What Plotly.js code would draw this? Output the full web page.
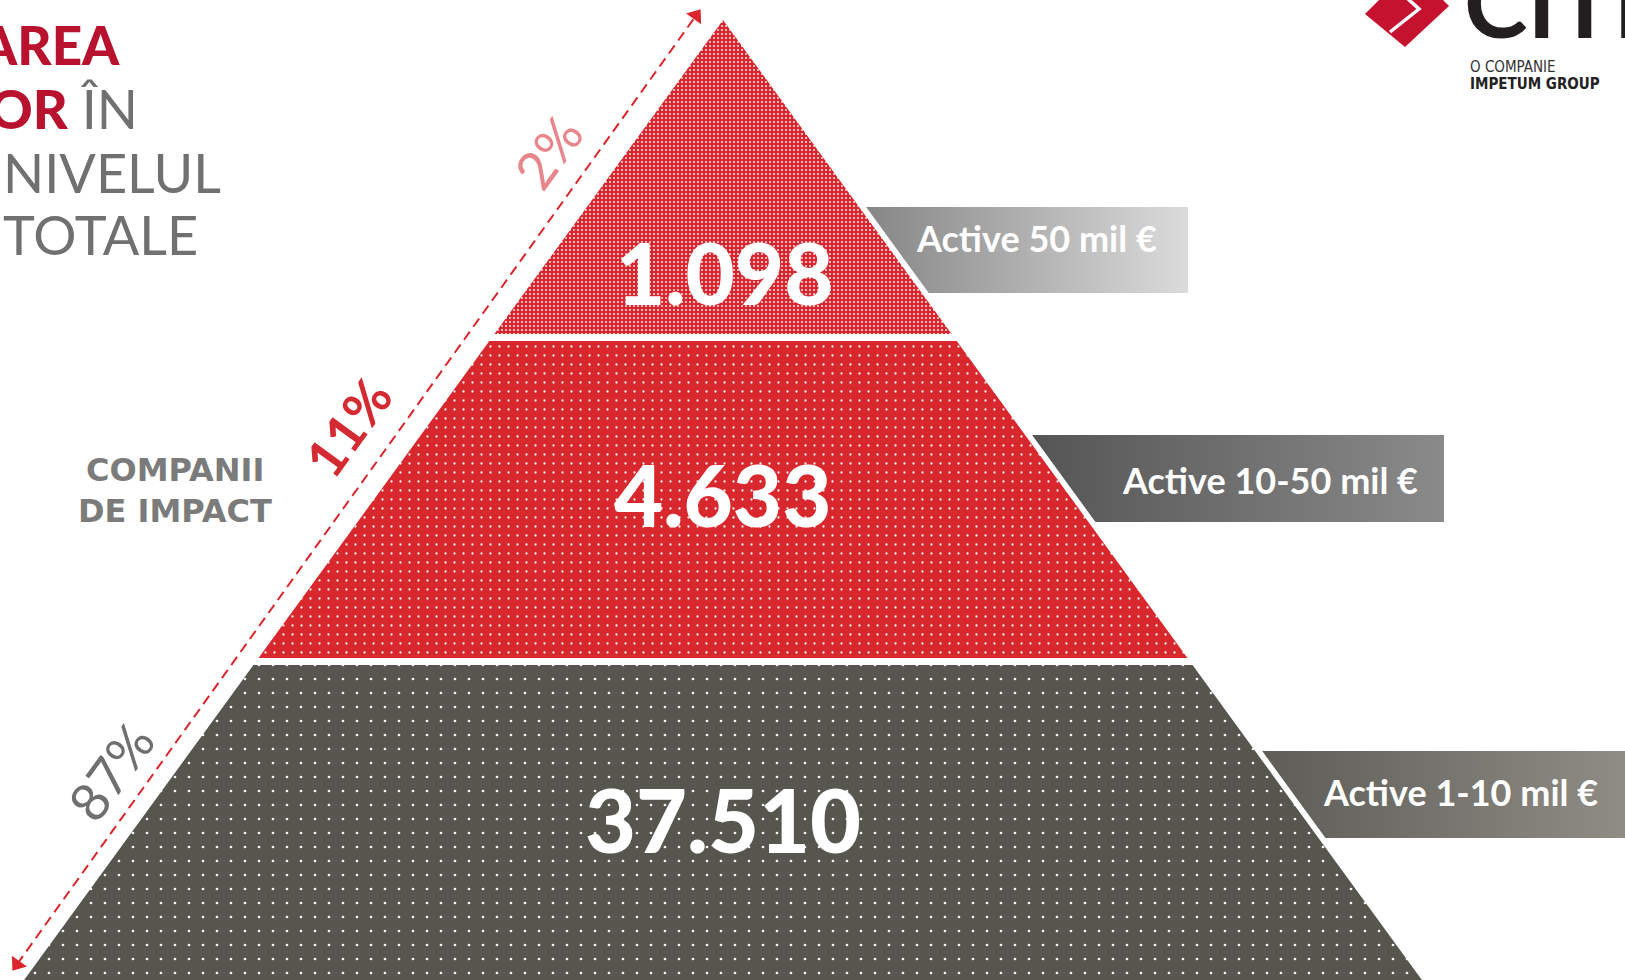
<!DOCTYPE html>
<html>
<head>
<meta charset="utf-8">
<script src="https://cdn.plot.ly/plotly-3.0.1.min.js"></script>
<style>
  html, body { margin: 0; padding: 0; background: #ffffff; }
  #chart { width: 1625px; height: 980px; }
</style>
</head>
<body>
<div id="chart"></div>
<script>
// ---------- DATA (top tier first) ----------
const tierLabels = ['Active 50 mil €', 'Active 10-50 mil €', 'Active 1-10 mil €'];
const companyCounts = [1098, 4633, 37510];
const sharePercents = [2, 11, 87];
const sideLabel = ['COMPANII', 'DE IMPACT'];
const titleLines = ['AREA', 'OR', 'ÎN', 'NIVELUL', 'TOTALE'];

// ---------- GEOMETRY / STYLE (layout constants) ----------
const G = {
  W: 1625, H: 980,
  apexX: 723, apexY: 20, slope: 0.728,
  firstCut: 337.5, pitch: 324, halfGap: 3.5, baseY: 985.5,
  boxOffset: 7
};
const tierColors = ['#d8262e', '#d9272e', '#56564f'];
const tierPattern = [
  {size: 4, solidity: 0.22, fg: 'rgba(255,255,255,0.85)'},
  {size: 9, solidity: 0.05, fg: 'rgba(255,255,255,0.95)'},
  {size: 14, solidity: 0.03, fg: 'rgba(255,255,255,0.95)'}
];
const numberPos = [[724, 272, 85], [722, 494, 85], [723, 819, 88]];
const boxY = [[207, 293], [435, 522], [751, 838]];
const boxRight = [1188, 1444, 1645];
const boxGrad = [['#868686', '#dbdbdb'], ['#555555', '#8a8a8a'], ['#5d5c57', '#928f87']];
const boxTextPos = [[1036, 238], [1270, 480], [1460, 792]];
const pctPos = [[547, 152], [347, 427], [110, 771]];
const pctColors = ['#e8868b', '#d42a31', '#6f6f6f'];
const RED_T = '#b8122f', GRAY_T = '#707070';

function fmt(n) { return String(n).replace(/\B(?=(\d{3})+(?!\d))/g, '.'); }
function edgeHalf(y) { return G.slope * (y - G.apexY); }

// tier vertical bounds
const nT = tierLabels.length;
const cuts = [];
for (let i = 0; i < nT - 1; i++) cuts.push(G.firstCut + i * G.pitch);

const traces = [];
for (let i = 0; i < nT; i++) {
  const top = i === 0 ? G.apexY : cuts[i - 1] + G.halfGap;
  const bot = i === nT - 1 ? G.baseY : cuts[i] - G.halfGap;
  const xs = [G.apexX - edgeHalf(top), G.apexX + edgeHalf(top), G.apexX + edgeHalf(bot), G.apexX - edgeHalf(bot), G.apexX - edgeHalf(top)];
  const ys = [top, top, bot, bot, top];
  traces.push({
    type: 'scatter', x: xs, y: ys, mode: 'none', fill: 'toself',
    fillcolor: tierColors[i],
    fillpattern: {shape: '.', bgcolor: tierColors[i], fgcolor: tierPattern[i].fg,
                  size: tierPattern[i].size, solidity: tierPattern[i].solidity, fillmode: 'replace'},
    hoverinfo: 'skip', name: tierLabels[i]
  });
}

// label boxes with gradient
for (let i = 0; i < nT; i++) {
  const [t, b] = boxY[i];
  const lt = G.apexX + edgeHalf(t) + G.boxOffset;
  const lb = G.apexX + edgeHalf(b) + G.boxOffset;
  traces.push({
    type: 'scatter', x: [lt, boxRight[i], boxRight[i], lb, lt], y: [t, t, b, b, t],
    mode: 'none', fill: 'toself',
    fillgradient: {type: 'horizontal', colorscale: [[0, boxGrad[i][0]], [1, boxGrad[i][1]]]},
    hoverinfo: 'skip'
  });
}

// dashed arrow along left edge
const tipTop = [700, 10], tipBot = [13, 970];
const dx = tipTop[0] - tipBot[0], dy = tipTop[1] - tipBot[1];
const L = Math.hypot(dx, dy), ux = dx / L, uy = dy / L;
const back = 7;
const pTop = [tipTop[0] - ux * back, tipTop[1] - uy * back];
const pBot = [tipBot[0] + ux * back, tipBot[1] + uy * back];
const ang = Math.atan2(ux, -uy) * 180 / Math.PI;
traces.push({
  type: 'scatter', x: [pBot[0], pTop[0]], y: [pBot[1], pTop[1]], mode: 'lines',
  line: {color: '#d9262c', width: 2, dash: '10px,6px'}, hoverinfo: 'skip'
});
traces.push({
  type: 'scatter', x: [pTop[0], pBot[0]], y: [pTop[1], pBot[1]], mode: 'markers',
  marker: {symbol: 'triangle-up', size: 16, color: '#d9262c', angle: [ang, ang + 180], line: {width: 0}},
  hoverinfo: 'skip', cliponaxis: false
});

// ---------- ANNOTATIONS ----------
const ann = [];
for (let i = 0; i < nT; i++) {
  ann.push({x: numberPos[i][0], y: numberPos[i][1], xref: 'x', yref: 'y', showarrow: false,
    text: fmt(companyCounts[i]), xanchor: 'center', yanchor: 'middle',
    font: {family: 'Lato', size: numberPos[i][2], color: '#ffffff', weight: 900}});
  ann.push({x: boxTextPos[i][0], y: boxTextPos[i][1], xref: 'x', yref: 'y', showarrow: false,
    text: tierLabels[i], xanchor: 'center', yanchor: 'middle',
    font: {family: 'Lato', size: 36, color: '#ffffff', weight: 700}});
  ann.push({x: pctPos[i][0], y: pctPos[i][1], xref: 'x', yref: 'y', showarrow: false,
    text: sharePercents[i] + '%', xanchor: 'center', yanchor: 'middle', textangle: -54,
    font: {family: 'Lato', size: 53, color: pctColors[i], weight: i === 1 ? 700 : 400}});
}
// side label
ann.push({x: 175, y: 470, xref: 'x', yref: 'y', showarrow: false, text: sideLabel[0],
  xanchor: 'center', yanchor: 'middle', font: {family: 'DejaVu Sans', size: 32, color: '#7b7b7b', weight: 700}});
ann.push({x: 175, y: 511, xref: 'x', yref: 'y', showarrow: false, text: sideLabel[1],
  xanchor: 'center', yanchor: 'middle', font: {family: 'DejaVu Sans', size: 32, color: '#7b7b7b', weight: 700}});
// title (cropped at left as in the reference)
const tf = {family: 'Lato', size: 54, color: GRAY_T, weight: 400};
ann.push({x: 122, y: 44, xref: 'x', yref: 'y', showarrow: false, xanchor: 'right', yanchor: 'middle',
  text: titleLines[0], font: {family: 'Lato', size: 53, color: RED_T, weight: 900}});
ann.push({x: 140, y: 108, xref: 'x', yref: 'y', showarrow: false, xanchor: 'right', yanchor: 'middle',
  text: '<span style="color:' + RED_T + ';font-weight:900">' + titleLines[1] + '</span> ' + titleLines[2], font: tf});
ann.push({x: 223, y: 172, xref: 'x', yref: 'y', showarrow: false, xanchor: 'right', yanchor: 'middle',
  text: titleLines[3], font: tf});
ann.push({x: 200, y: 234, xref: 'x', yref: 'y', showarrow: false, xanchor: 'right', yanchor: 'middle',
  text: titleLines[4], font: tf});
// logo text
ann.push({x: 1462, y: 0, xref: 'x', yref: 'y', showarrow: false, xanchor: 'left', yanchor: 'middle',
  text: 'CITR', font: {family: 'Lato', size: 96, color: '#231f20', weight: 700}});
ann.push({x: 1468, y: 67, xref: 'x', yref: 'y', showarrow: false, xanchor: 'left', yanchor: 'middle',
  text: 'O COMPANIE', font: {family: 'DejaVu Sans Condensed', size: 15, color: '#333333'}});
ann.push({x: 1468, y: 84, xref: 'x', yref: 'y', showarrow: false, xanchor: 'left', yanchor: 'middle',
  text: 'IMPETUM GROUP', font: {family: 'DejaVu Sans Condensed', size: 15, color: '#222222', weight: 700}});

// logo diamond shapes
const shapes = [
  {type: 'path', xref: 'x', yref: 'y', path: 'M1379,0 L1365,14 L1405,47 L1449,6 L1443,0 Z',
   fillcolor: '#c4122f', line: {width: 0}},
  {type: 'path', xref: 'x', yref: 'y', path: 'M1390,32 L1419,9 L1407,-2',
   line: {color: '#ffffff', width: 3.5}}
];

const layout = {
  width: G.W, height: G.H,
  margin: {l: 0, r: 0, t: 0, b: 0, pad: 0},
  paper_bgcolor: '#ffffff', plot_bgcolor: '#ffffff',
  showlegend: false,
  xaxis: {range: [0, G.W], visible: false, fixedrange: true},
  yaxis: {range: [G.H, 0], visible: false, fixedrange: true},
  annotations: ann, shapes: shapes,
  hovermode: false
};
Plotly.newPlot('chart', traces, layout, {displayModeBar: false, staticPlot: true});
</script>
</body>
</html>
